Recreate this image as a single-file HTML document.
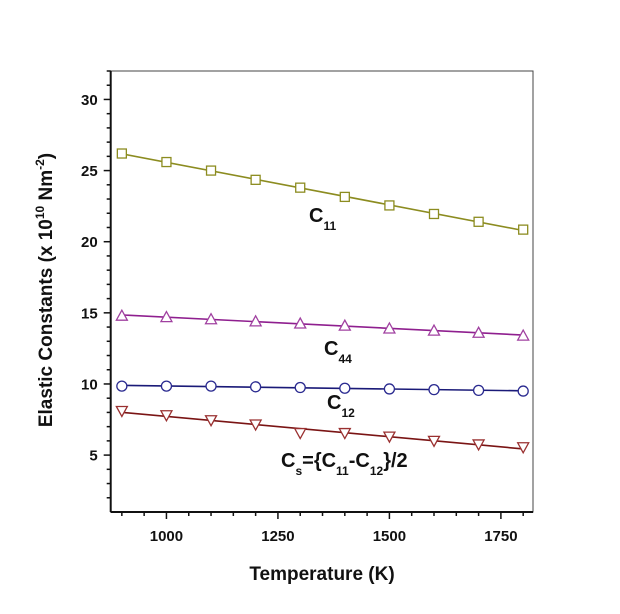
<!DOCTYPE html>
<html><head><meta charset="utf-8"><style>
body{margin:0;background:#fff;}
svg{display:block;font-family:"Liberation Sans",Arial,sans-serif;}
</style></head><body>
<svg id="chart" width="620" height="614" viewBox="0 0 620 614">
<rect x="110.7" y="71" width="422.3" height="441" fill="none" stroke="#444" stroke-width="1"/>
<line x1="110.7" y1="71" x2="110.7" y2="512" stroke="#111" stroke-width="2"/>
<line x1="110.7" y1="512" x2="533" y2="512" stroke="#111" stroke-width="2"/>
<g id="axes"></g>
<g id="series"></g>
<text x="322" y="580" text-anchor="middle" font-size="19" font-weight="bold" fill="#111">Temperature (K)</text>
<text transform="translate(52,290) rotate(-90)" text-anchor="middle" font-size="19" font-weight="bold" fill="#111">Elastic Constants (x 10<tspan font-size="12" dy="-8">10</tspan><tspan dy="8"> Nm</tspan><tspan font-size="12" dy="-8">-2</tspan><tspan dy="8">)</tspan></text>
<text x="309" y="222" font-size="20" font-weight="bold" fill="#111">C<tspan font-size="12" dy="8">11</tspan></text>
<text x="324" y="355" font-size="20" font-weight="bold" fill="#111">C<tspan font-size="12" dy="8">44</tspan></text>
<text x="327" y="409" font-size="20" font-weight="bold" fill="#111">C<tspan font-size="12" dy="8">12</tspan></text>
<text x="281" y="467" font-size="20" font-weight="bold" fill="#111">C<tspan font-size="12" dy="8">s</tspan><tspan dy="-8">={C</tspan><tspan font-size="12" dy="8">11</tspan><tspan dy="-8">-C</tspan><tspan font-size="12" dy="8">12</tspan><tspan dy="-8">}/2</tspan></text>
</svg>
<script>
const temps=[900,1000,1100,1200,1300,1400,1500,1600,1700,1800];
const c11=[26.2,25.6,25.0,24.35,23.8,23.15,22.55,21.95,21.4,20.85];
const c44=[14.8,14.7,14.55,14.4,14.25,14.1,13.9,13.75,13.6,13.4];
const c12=[9.85,9.85,9.85,9.8,9.75,9.7,9.65,9.6,9.55,9.5];
const cs=[8.1,7.8,7.45,7.15,6.55,6.55,6.3,6.0,5.75,5.55];
const xTicks=[1000,1250,1500,1750];
const yTicks=[5,10,15,20,25,30];
const X0=875,X1=1822,Y0=1,Y1=32;
const L=110.7,R=533,T=71,B=512;
const sx=v=>L+(v-X0)/(X1-X0)*(R-L);
const sy=v=>B-(v-Y0)/(Y1-Y0)*(B-T);
const NS="http://www.w3.org/2000/svg";
function mk(tag,attrs,parent){const e=document.createElementNS(NS,tag);for(const k in attrs)e.setAttribute(k,attrs[k]);parent.appendChild(e);return e;}
const axes=document.getElementById('axes');
for(let v=900;v<=1800;v+=50){
  const t=mk('line',{x1:sx(v),x2:sx(v),y1:B,y2:B+(v%250===0?7:4),stroke:'#111','stroke-width':1.5},axes);
  
  
}
xTicks.forEach(v=>{const t=mk('text',{x:sx(v),y:541,'text-anchor':'middle','font-size':15,'font-weight':'bold',fill:'#111'},axes);t.textContent=v;
  
  });
for(let v=2;v<=32;v+=1){
  const major=v%5===0;
  const t=mk('line',{x1:L-(major?7:4),x2:L,y1:sy(v),y2:sy(v),stroke:'#111','stroke-width':1.5},axes);
  
  
}
yTicks.forEach(v=>{const t=mk('text',{x:L-13,y:sy(v)+5.5,'text-anchor':'end','font-size':15,'font-weight':'bold',fill:'#111'},axes);t.textContent=v;
  
  });
const seriesG=document.getElementById('series');
function fit(ys){const n=temps.length;let mx=0,my=0;temps.forEach((x,i)=>{mx+=x;my+=ys[i];});mx/=n;my/=n;let a=0,b=0;temps.forEach((x,i)=>{a+=(x-mx)*(ys[i]-my);b+=(x-mx)*(x-mx);});const s=a/b;return x=>my+s*(x-mx);}
function draw(name,ys,line,marker,shape){
  const f=fit(ys);
  const ln=mk('line',{x1:sx(temps[0]),y1:sy(f(temps[0])),x2:sx(temps[temps.length-1]),y2:sy(f(temps[temps.length-1])),stroke:line,'stroke-width':1.6},seriesG);
  
  
  temps.forEach((t,i)=>{
    const x=sx(t),y=sy(ys[i]);let m;
    if(shape==='sq')m=mk('rect',{x:x-4.5,y:y-4.5,width:9,height:9,fill:'#fff',stroke:marker,'stroke-width':1.3},seriesG);
    else if(shape==='ci')m=mk('circle',{cx:x,cy:y,r:5,fill:'#fff',stroke:marker,'stroke-width':1.3},seriesG);
    else if(shape==='up')m=mk('polygon',{points:`${x},${y-5.5} ${x-5.5},${y+4.5} ${x+5.5},${y+4.5}`,fill:'#fff',stroke:marker,'stroke-width':1.3},seriesG);
    else m=mk('polygon',{points:`${x},${y+5.5} ${x-5.5},${y-4.5} ${x+5.5},${y-4.5}`,fill:'#fff',stroke:marker,'stroke-width':1.3},seriesG);
    
    
  });
}
draw('c11',c11,'#8c8c20','#8c8c20','sq');
draw('c44',c44,'#8f1f8f','#a040a0','up');
draw('c12',c12,'#1a1a78','#2a2a90','ci');
draw('cs',cs,'#7a1414','#9a3030','dn');
</script>
</body></html>
